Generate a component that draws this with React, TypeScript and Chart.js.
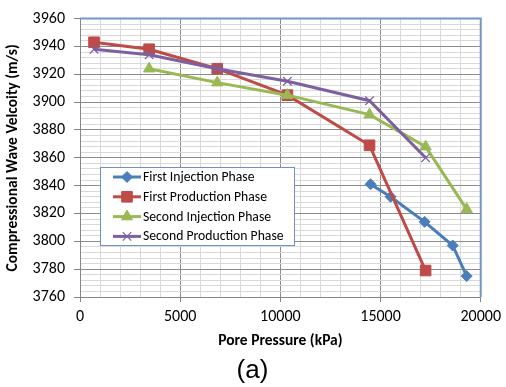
import React, { useEffect, useRef } from 'react';
import { Chart, registerables } from 'chart.js';
import { drawPoint } from 'chart.js/helpers';

Chart.register(...registerables);

// ---- data ----
const seriesNames = [
  'First Injection Phase',
  'First Production Phase',
  'Second Injection Phase',
  'Second Production Phase',
];

const firstInjectionPressure = [14500, 15500, 17200, 18600, 19300];
const firstInjectionVelocity = [3841, 3832, 3814, 3797, 3775];

const firstProductionPressure = [700, 3450, 6850, 10350, 14450, 17250];
const firstProductionVelocity = [3943, 3938, 3924, 3905, 3869, 3779];

const secondInjectionPressure = [3450, 6850, 10350, 14450, 17250, 19300];
const secondInjectionVelocity = [3924, 3914, 3905, 3891, 3868, 3823];

const secondProductionPressure = [700, 3450, 6850, 10350, 14450, 17250];
const secondProductionVelocity = [3938, 3934, 3924, 3915, 3901, 3860];

const xMin = 0;
const xMax = 20000;
const xMajor = 5000;
const xMinor = 1000;
const yMin = 3760;
const yMax = 3960;
const yMajor = 20;
const yMinor = 4;

// ---- styles ----
const FONT = 'Carlito, "Open Sans", sans-serif';
const colors = ['#4A7EBB', '#BE4B48', '#98B954', '#7D60A0'];
const pointStyles = ['rectRot', 'rect', 'triangle', 'crossRot'];
const pointRadii = [5.5, 7.5, 6.5, 6];

const toPoints = (xs: number[], ys: number[]) => xs.map((x, i) => ({ x, y: ys[i] }));

const allSeries = [
  toPoints(firstInjectionPressure, firstInjectionVelocity),
  toPoints(firstProductionPressure, firstProductionVelocity),
  toPoints(secondInjectionPressure, secondInjectionVelocity),
  toPoints(secondProductionPressure, secondProductionVelocity),
];

const borderPlugin = {
  id: 'plotBorder',
  beforeDatasetsDraw(chart: any) {
    const { ctx, chartArea } = chart;
    ctx.save();
    ctx.strokeStyle = '#7496C4';
    ctx.lineWidth = 2;
    ctx.beginPath();
    ctx.moveTo(chartArea.left, chartArea.top);
    ctx.lineTo(chartArea.right, chartArea.top);
    ctx.lineTo(chartArea.right, chartArea.bottom);
    ctx.stroke();
    ctx.restore();
  },
};

const legendPlugin = {
  id: 'insideLegend',
  afterDraw(chart: any) {
    const { ctx } = chart;
    const bx = 100.5, by = 167.5, bw = 194, bh = 78;
    ctx.save();
    ctx.fillStyle = '#ffffff';
    ctx.fillRect(bx, by, bw, bh);
    ctx.strokeStyle = '#6E92C4';
    ctx.lineWidth = 1;
    ctx.strokeRect(bx, by, bw, bh);
    chart.data.datasets.forEach((ds: any, i: number) => {
      const y = 177 + i * 19.8;
      ctx.strokeStyle = ds.borderColor;
      ctx.lineWidth = 3;
      ctx.beginPath();
      ctx.moveTo(113, y);
      ctx.lineTo(141, y);
      ctx.stroke();
      ctx.fillStyle = ds.pointBackgroundColor;
      ctx.strokeStyle = ds.pointBorderColor;
      ctx.lineWidth = ds.pointBorderWidth;
      drawPoint(ctx, { pointStyle: ds.pointStyle, radius: ds.pointRadius, borderWidth: ds.pointBorderWidth, rotation: 0 }, 127, y);
      ctx.fillStyle = '#000000';
      ctx.font = `13.7px ${FONT}`;
      ctx.textAlign = 'left';
      ctx.textBaseline = 'middle';
      ctx.fillText(ds.label, 143, y + 0.5);
    });
    ctx.restore();
  },
};

const captionPlugin = {
  id: 'caption',
  afterDraw(chart: any) {
    const { ctx } = chart;
    ctx.save();
    ctx.fillStyle = '#000000';
    ctx.font = '26px "Liberation Sans", Arial, sans-serif';
    ctx.textAlign = 'center';
    ctx.textBaseline = 'alphabetic';
    ctx.fillText('(a)', 252.5, 377.5);
    ctx.restore();
  },
};

export default function App() {
  const ref = useRef<HTMLCanvasElement | null>(null);

  useEffect(() => {
    if (!ref.current) return;
    const chart = new Chart(ref.current, {
      type: 'line',
      data: {
        datasets: allSeries.map((pts, i) => ({
          label: seriesNames[i],
          data: pts,
          borderColor: colors[i],
          backgroundColor: colors[i],
          borderWidth: 3,
          pointStyle: pointStyles[i],
          pointRadius: pointRadii[i],
          pointBackgroundColor: colors[i],
          pointBorderColor: colors[i],
          pointBorderWidth: i === 3 ? 1.2 : 1,
          tension: 0,
          fill: false,
          order: 4 - i,
        })),
      },
      plugins: [borderPlugin, legendPlugin, captionPlugin],
      options: {
        responsive: false,
        animation: false,
        devicePixelRatio: 1,
        layout: { padding: { top: 16, right: 20, left: 0, bottom: 33 } },
        plugins: {
          legend: { display: false },
          tooltip: { enabled: false },
          title: { display: false },
        },
        scales: {
          x: {
            type: 'linear',
            min: xMin,
            max: xMax,
            afterFit: (s: any) => { s.height = 57; },
            border: { color: '#868686', width: 1 },
            grid: {
              color: (c: any) => (c.tick && c.tick.value % xMajor === 0 ? '#8C8C8C' : '#D9D9D9'),
              tickColor: (c: any) => (c.tick && c.tick.value % xMajor === 0 ? '#868686' : 'rgba(0,0,0,0)'),
              tickLength: 5,
            },
            ticks: {
              stepSize: xMinor,
              autoSkip: false,
              maxRotation: 0,
              minRotation: 0,
              padding: 5,
              color: '#000000',
              font: { family: FONT, size: 16 },
              callback: (v: any) => (Number(v) % xMajor === 0 ? String(v) : ''),
            },
            title: {
              display: true,
              text: 'Pore Pressure (kPa)',
              color: '#000000',
              font: { family: FONT, size: 15.5, weight: 'bold' },
              padding: { top: 0, bottom: 3.5 },
            },
          },
          y: {
            type: 'linear',
            min: yMin,
            max: yMax,
            afterFit: (s: any) => { s.width = 80; },
            border: { color: '#868686', width: 1 },
            grid: {
              color: (c: any) => (c.tick && c.tick.value % yMajor === 0 ? '#8C8C8C' : '#D9D9D9'),
              tickColor: (c: any) => (c.tick && c.tick.value % yMajor === 0 ? '#868686' : 'rgba(0,0,0,0)'),
              tickLength: 6,
            },
            ticks: {
              stepSize: yMinor,
              autoSkip: false,
              padding: 9,
              color: '#000000',
              font: { family: FONT, size: 16 },
              callback: (v: any) => (Number(v) % yMajor === 0 ? String(v) : ''),
            },
            title: {
              display: true,
              text: 'Compressional Wave Velcoity (m/s)',
              color: '#000000',
              font: { family: FONT, size: 15.5, weight: 'bold' },
              padding: { top: 3.5, bottom: 0 },
            },
          },
        },
      } as any,
    });
    return () => chart.destroy();
  }, []);

  return (
    <div style={{ position: 'absolute', left: 0, top: 0, width: 506, height: 387 }}>
      <canvas ref={ref} width={506} height={387} style={{ width: 506, height: 387, display: 'block' }} />
    </div>
  );
}
